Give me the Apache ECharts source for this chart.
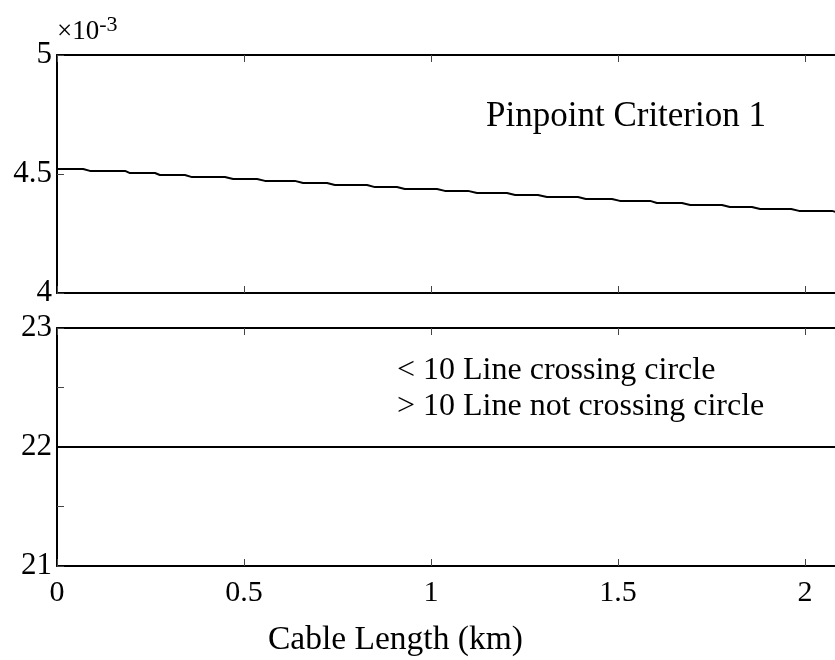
<!DOCTYPE html>
<html>
<head>
<meta charset="utf-8">
<script src="https://cdn.jsdelivr.net/npm/echarts@6/dist/echarts.min.js"></script>
<style>
  html, body { margin: 0; padding: 0; background: #fff; }
  #chart { width: 835px; height: 660px; }
</style>
</head>
<body>
<div id="chart"></div>
<script>
// Pinpoint criterion 1 (x 10^-3): flat runs of the curve, start/end in km and level
const stepStartKm = [0, 0.088, 0.195, 0.275, 0.361, 0.471, 0.556, 0.658, 0.743, 0.850, 0.930,
                     1.037, 1.123, 1.225, 1.310, 1.414, 1.505, 1.604, 1.693, 1.799, 1.880, 1.984, 2.094];
const stepEndKm   = [0.070, 0.182, 0.262, 0.342, 0.449, 0.535, 0.636, 0.722, 0.829, 0.909, 1.016,
                     1.099, 1.203, 1.286, 1.393, 1.484, 1.586, 1.671, 1.778, 1.858, 1.963, 2.072, 2.200];
const criterion1  = [4.521, 4.513, 4.504, 4.496, 4.487, 4.479, 4.471, 4.462, 4.454, 4.445, 4.437,
                     4.429, 4.420, 4.412, 4.403, 4.395, 4.387, 4.378, 4.370, 4.361, 4.353, 4.345, 4.336];

// Line-crossing criterion: constant value along the cable
const crossKm    = [0, 2.2];
const criterion2 = [22, 22];

const xTicks = [0, 0.5, 1, 1.5, 2];

const FONT = '"Liberation Serif", "Times New Roman", serif';

const topData = [];
stepStartKm.forEach((s, i) => {
  topData.push([s, criterion1[i]]);
  topData.push([stepEndKm[i], criterion1[i]]);
});
const bottomData = crossKm.map((x, i) => [x, criterion2[i]]);

const chart = echarts.init(document.getElementById('chart'), null, { renderer: 'canvas' });

const axisLine = { show: true, lineStyle: { color: '#000', width: 2 } };
const tickIn = { show: true, inside: true, length: 7, lineStyle: { color: '#444', width: 1 } };

function xAxisFor(grid, position, showLabels) {
  return {
    type: 'value', gridIndex: grid, position: position,
    min: 0, max: 2.5, interval: 0.5,
    axisLine: axisLine, axisTick: tickIn, splitLine: { show: false },
    axisLabel: {
      show: showLabels, margin: 12, color: '#000', fontFamily: FONT, fontSize: 30,
      formatter: v => xTicks.includes(v) ? String(v) : ''
    }
  };
}

chart.setOption({
  animation: false,
  backgroundColor: '#fff',
  grid: [
    { left: 57, top: 55, width: 935, height: 238, outerBoundsMode: 'none' },
    { left: 57, top: 328, width: 935, height: 238, outerBoundsMode: 'none' }
  ],
  xAxis: [
    xAxisFor(0, 'bottom', false),
    xAxisFor(0, 'top', false),
    xAxisFor(1, 'bottom', true),
    xAxisFor(1, 'top', false)
  ],
  yAxis: [
    {
      type: 'value', gridIndex: 0, min: 4, max: 5, interval: 0.5,
      axisLine: axisLine, axisTick: tickIn, splitLine: { show: false },
      axisLabel: { margin: 5, color: '#000', fontFamily: FONT, fontSize: 31, padding: [5, 0, 0, 0] }
    },
    {
      type: 'value', gridIndex: 1, min: 21, max: 23, interval: 0.5,
      axisLine: axisLine, axisTick: tickIn, splitLine: { show: false },
      axisLabel: {
        margin: 5, color: '#000', fontFamily: FONT, fontSize: 31, padding: [5, 0, 0, 0],
        formatter: v => Number.isInteger(v) ? String(v) : ''
      }
    }
  ],
  series: [
    {
      type: 'line', xAxisIndex: 0, yAxisIndex: 0, data: topData,
      symbol: 'none', lineStyle: { color: '#000', width: 2 }
    },
    {
      type: 'line', xAxisIndex: 2, yAxisIndex: 1, data: bottomData,
      symbol: 'none', lineStyle: { color: '#000', width: 2 }
    }
  ],
  graphic: [
    {
      type: 'text', left: 57, top: 14,
      style: {
        text: '{a|×10}{b|-3}',
        rich: {
          a: { fontFamily: FONT, fontSize: 27, fill: '#000', verticalAlign: 'bottom', lineHeight: 31 },
          b: { fontFamily: FONT, fontSize: 22, fill: '#000', verticalAlign: 'top', lineHeight: 31, padding: [0, 0, 14, 0] }
        }
      }
    },
    {
      type: 'text', left: 486, top: 99,
      style: { text: 'Pinpoint Criterion 1', fontFamily: FONT, fontSize: 35, fill: '#000' }
    },
    {
      type: 'text', left: 397, top: 355,
      style: { text: '< 10 Line crossing circle', fontFamily: FONT, fontSize: 32, fill: '#000' }
    },
    {
      type: 'text', left: 397, top: 391,
      style: { text: '> 10 Line not crossing circle', fontFamily: FONT, fontSize: 32, fill: '#000' }
    },
    {
      type: 'text', left: 268, top: 623,
      style: { text: 'Cable Length (km)', fontFamily: FONT, fontSize: 33.5, fill: '#000' }
    }
  ]
});
</script>
</body>
</html>
